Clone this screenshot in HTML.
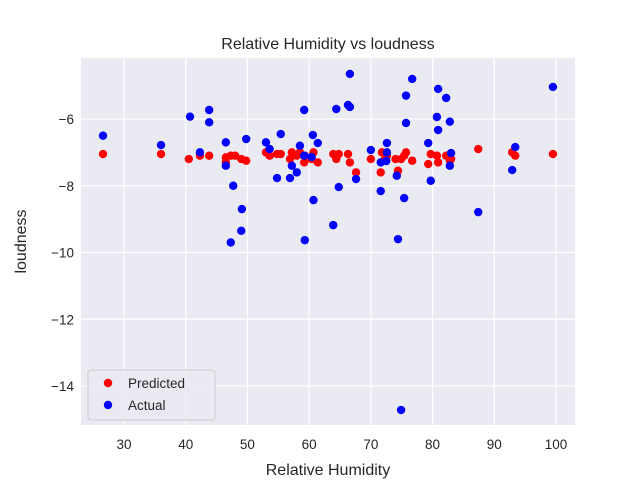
<!DOCTYPE html>
<html><head><meta charset="utf-8"><style>
body{margin:0;background:#fff;}
svg text{font-family:"Liberation Sans","DejaVu Sans",sans-serif;fill:#262626;}
</style></head><body>
<svg id="chart" width="640" height="480" viewBox="0 0 640 480"></svg>
<script>
const xTicks=[30,40,50,60,70,80,90,100];
const yTicks=[-14,-12,-10,-8,-6];
const actualX=[26.6,36,40.7,43.8,43.8,42.3,46.5,46.5,47.7,49.8,49.1,49,47.3,53,53.6,55.4,54.8,56.9,58.5,59.2,57.2,58,59.2,60.6,61.4,60.4,60.7,59.3,63.9,64.4,64.8,66.6,66.3,66.6,67.6,70,72.6,71.6,72.5,71.6,74.2,74.4,76.7,75.7,75.7,80.9,82.2,80.7,82.8,80.9,79.3,83,82.8,79.7,87.4,93.4,92.9,99.5,75.4,74.9,72.6];
const actualY=[-6.5,-6.78,-5.93,-5.73,-6.1,-7.0,-6.7,-7.4,-8.0,-6.6,-8.7,-9.35,-9.7,-6.7,-6.9,-6.45,-7.77,-7.77,-6.8,-7.1,-7.4,-7.6,-5.73,-6.48,-6.72,-7.14,-8.43,-9.63,-9.18,-5.7,-8.04,-4.65,-5.58,-5.64,-7.8,-6.93,-6.72,-7.3,-7.26,-8.16,-7.7,-9.6,-4.8,-5.3,-6.12,-5.1,-5.37,-5.94,-6.08,-6.33,-6.72,-7.02,-7.4,-7.85,-8.79,-6.84,-7.53,-5.04,-8.37,-14.72,-7.0];
const predX=[26.6,36,40.5,42.3,43.8,46.5,47.3,48,49,49.8,46.5,53,53.6,54.8,55.4,56.9,57.2,58,58.5,59.2,59.3,60.4,60.7,61.4,63.9,64.4,64.8,66.3,66.6,67.6,70,71.6,71.8,72.1,72.6,74,74.4,74.9,75.4,75.7,76.7,79.3,79.7,80.7,80.9,82.2,82.8,83,87.4,92.9,93.4,99.5];
const predY=[-7.05,-7.05,-7.2,-7.1,-7.1,-7.15,-7.1,-7.1,-7.2,-7.25,-7.3,-7.0,-7.1,-7.05,-7.05,-7.2,-7.0,-7.1,-7.0,-7.3,-7.1,-7.2,-7.0,-7.3,-7.05,-7.2,-7.05,-7.05,-7.3,-7.6,-7.2,-7.6,-7.0,-7.25,-7.1,-7.2,-7.55,-7.2,-7.1,-7.0,-7.25,-7.35,-7.05,-7.1,-7.3,-7.1,-7.25,-7.2,-6.9,-7.0,-7.1,-7.05];
const L=81,R=575,T=58,B=425;
const sx=v=>124+(v-30)*432/70;
const sy=v=>119-(v+6)*33.375;
const svg=document.getElementById('chart');
const NS='http://www.w3.org/2000/svg';
function mk(tag,attrs,parent){const e=document.createElementNS(NS,tag);for(const k in attrs)e.setAttribute(k,attrs[k]);(parent||svg).appendChild(e);return e;}
let bg=mk('rect',{x:L,y:T,width:R-L,height:B-T,fill:'#eaeaf2'});


xTicks.forEach(t=>{const x=sx(t);
 let g=mk('line',{x1:x,x2:x,y1:T,y2:B,stroke:'#fff','stroke-width':1.2});
 
 
 let tx=mk('text',{x:x,y:B+24,'text-anchor':'middle','font-size':'13.5'});tx.textContent=t;
 
 
});
yTicks.forEach(t=>{const y=sy(t);
 let g=mk('line',{x1:L,x2:R,y1:y,y2:y,stroke:'#fff','stroke-width':1.2});
 
 
 let tx=mk('text',{x:L-7,y:y+5,'text-anchor':'end','font-size':'13.5'});tx.textContent='\u2212'+Math.abs(t);
 
 
});
predX.forEach((v,i)=>{let c=mk('circle',{cx:sx(v),cy:sy(predY[i]),r:4.2,fill:'#ff0000'});
 
 });
actualX.forEach((v,i)=>{let c=mk('circle',{cx:sx(v),cy:sy(actualY[i]),r:4.2,fill:'#0000ff'});
 
 });
let title=mk('text',{x:(L+R)/2,y:49,'text-anchor':'middle','font-size':'16'});title.textContent='Relative Humidity vs loudness';


let xl=mk('text',{x:(L+R)/2,y:475,'text-anchor':'middle','font-size':'16'});xl.textContent='Relative Humidity';


let yl=mk('text',{x:0,y:0,'text-anchor':'middle','font-size':'16',transform:'translate(26,'+((T+B)/2)+') rotate(-90)'});yl.textContent='loudness';


let lg=mk('g',{});


mk('rect',{x:88,y:370,width:127,height:50,rx:3,fill:'#eaeaf2',stroke:'#cccccc','stroke-width':1,'fill-opacity':0.8},lg);
mk('circle',{cx:108,cy:383,r:4.2,fill:'#ff0000'},lg);
let t1=mk('text',{x:128,y:388,'font-size':'13.5'},lg);t1.textContent='Predicted';


mk('circle',{cx:108,cy:405,r:4.2,fill:'#0000ff'},lg);
let t2=mk('text',{x:128,y:410,'font-size':'13.5'},lg);t2.textContent='Actual';


</script>
</body></html>
